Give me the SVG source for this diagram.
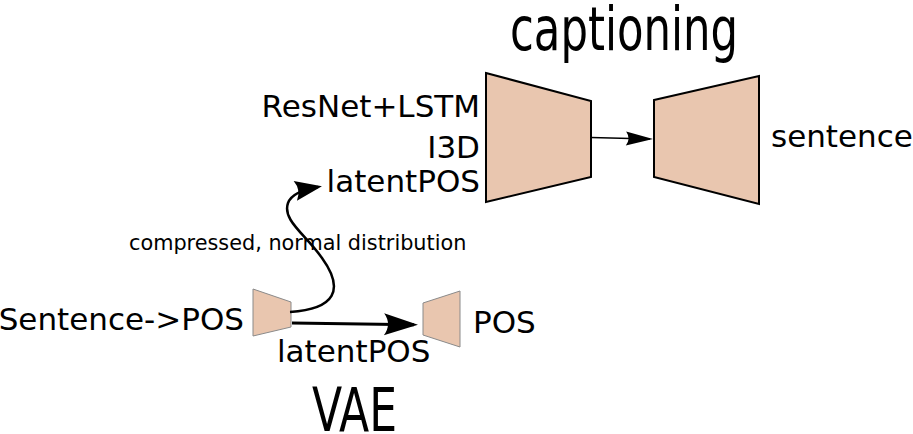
<svg xmlns="http://www.w3.org/2000/svg" width="913" height="434" viewBox="0 0 913 434">
<style>
.lbl{font-family:"DejaVu Sans","Liberation Sans",sans-serif;font-size:31px;fill:#000}
.big{font-family:"DejaVu Sans Condensed","DejaVu Sans","Liberation Sans",sans-serif;font-size:48px;fill:#000}
.blk{fill:#e9c6af;stroke:#000;stroke-width:2;stroke-linejoin:miter}
.sm{fill:#e9c6af;stroke:#8a8a8a;stroke-width:1}
.con{fill:none;stroke:#000}
</style>
<defs>
<marker id="ah" markerUnits="userSpaceOnUse" markerWidth="40" markerHeight="30" viewBox="-2 -13 40 26" refX="30" refY="0" orient="auto" overflow="visible">
<path d="M0,-11 L34,0 L0,11 Q8,0 0,-11 Z" fill="#000"/>
</marker>
<marker id="ahc" markerUnits="userSpaceOnUse" markerWidth="32" markerHeight="24" viewBox="-2 -12 32 24" refX="23" refY="0" orient="auto" overflow="visible">
<path d="M0,-10 L27,0 L0,10 Q6,0 0,-10 Z" fill="#000"/>
</marker>
<marker id="ahs" markerUnits="userSpaceOnUse" markerWidth="32" markerHeight="18" viewBox="-2 -9 32 18" refX="24" refY="0" orient="auto" overflow="visible">
<path d="M0,-7 L27,0 L0,7 Q5,0 0,-7 Z" fill="#000"/>
</marker>
</defs>
<rect width="913" height="434" fill="#fff"/>
<text class="big" transform="translate(510,50) scale(1,1.26)" textLength="228" lengthAdjust="spacingAndGlyphs">captioning</text>
<text class="big" transform="translate(312,431) scale(1,1.26)" textLength="85" lengthAdjust="spacingAndGlyphs">VAE</text>
<g id="cap-encoder">
<polygon class="blk" points="486,73 591,101 591,177 486,202"/>
<text class="lbl" x="480" y="117" text-anchor="end">ResNet+LSTM</text>
<text class="lbl" x="480" y="158" text-anchor="end">I3D</text>
<text class="lbl" x="480" y="192" text-anchor="end">latentPOS</text>
</g>
<g id="cap-decoder">
<polygon class="blk" points="654,100 759,76 759,204 654,177"/>
<text class="lbl" x="771" y="147">sentence</text>
</g>
<g id="vae-encoder">
<polygon class="sm" points="253,289 291,302 291,327 253,336"/>
<text class="lbl" x="244" y="330" text-anchor="end">Sentence-&gt;POS</text>
</g>
<g id="vae-decoder">
<polygon class="sm" points="423,303 460,291 460,347 423,335"/>
<text class="lbl" x="473" y="333">POS</text>
</g>
<g id="connectors">
<path class="con" stroke-width="1.5" d="M591,137.5 L650,139" marker-end="url(#ahs)"/>
<path class="con" stroke-width="3" d="M292,323 L414,324.8" marker-end="url(#ah)"/>
<text class="lbl" x="277" y="362">latentPOS</text>
<path class="con" stroke-width="2.5" d="M290,312 C335,309 345,290 322,258 C305,234 282,220 288,203 C291,195 300,190 318,187" marker-end="url(#ahc)"/>
<text class="lbl" x="129" y="250" style="font-size:20.8px">compressed, normal distribution</text>
</g>
</svg>
